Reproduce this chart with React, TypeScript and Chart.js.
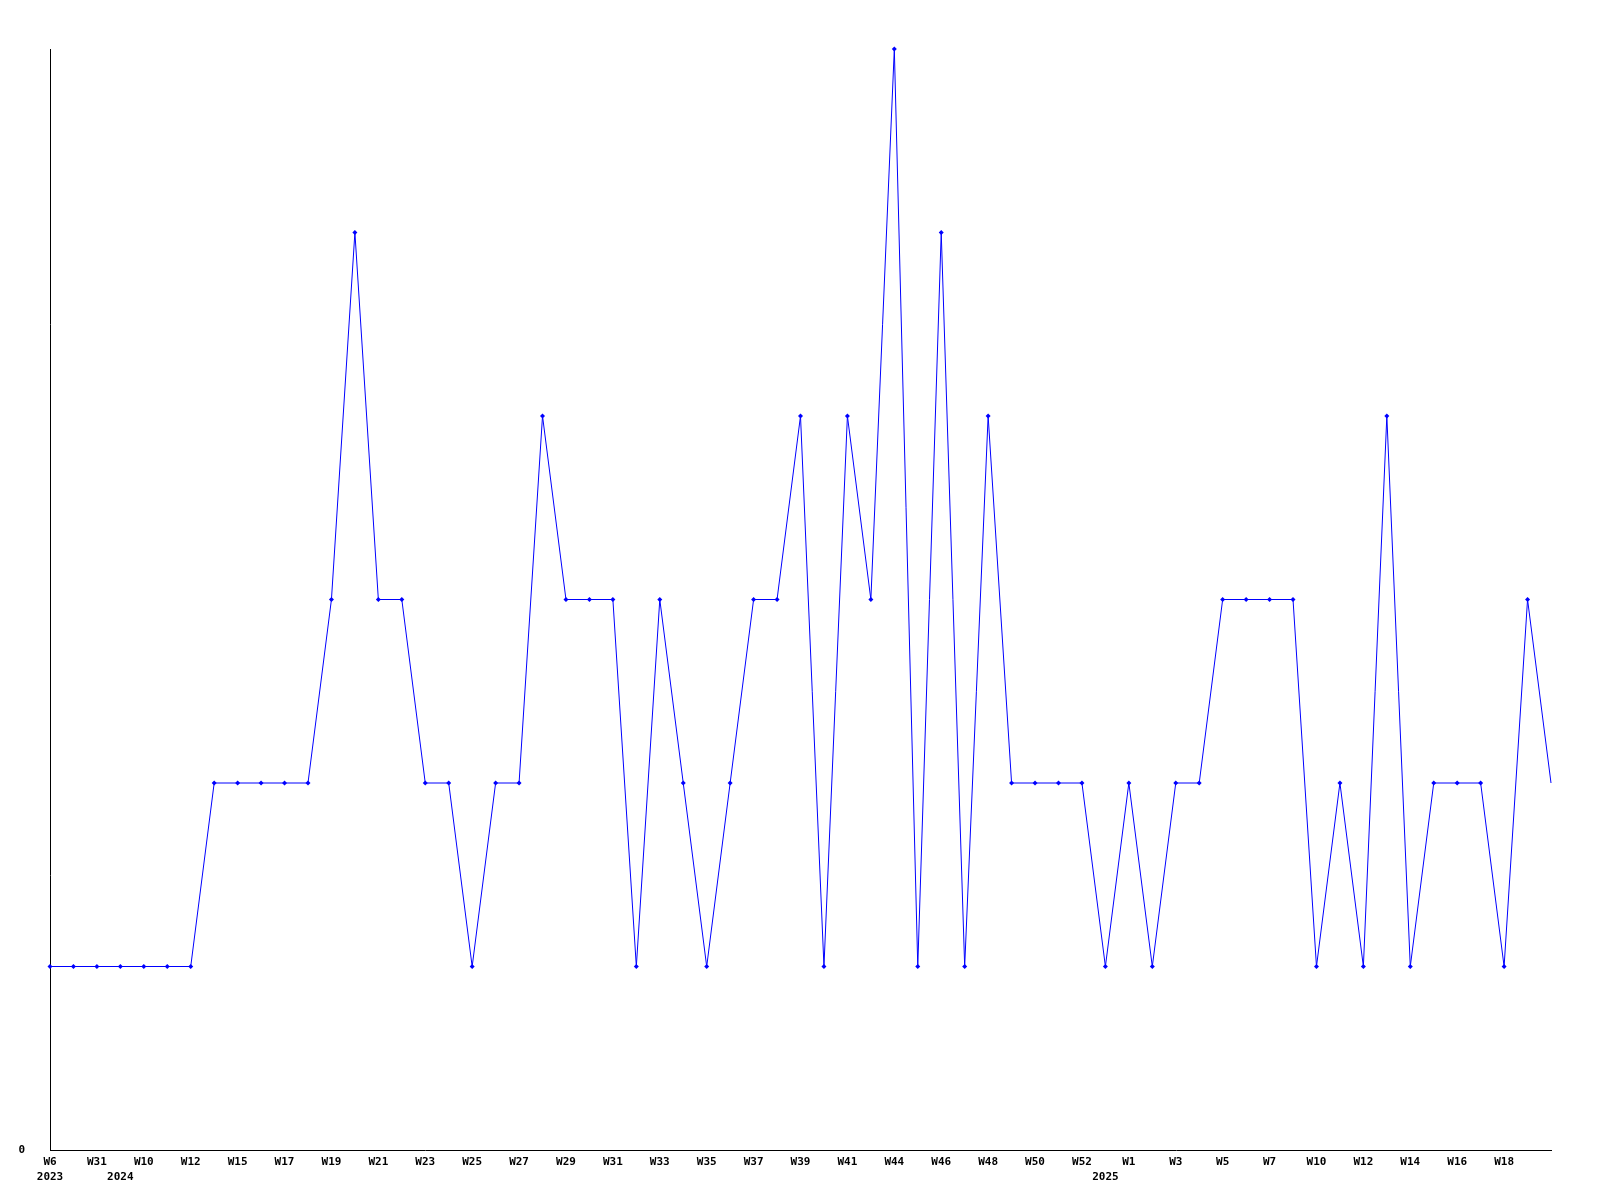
import React, { useEffect, useRef } from "react";
import { Chart, registerables } from "chart.js";

Chart.register(...registerables);

const weeks: string[] = [
  "W6", "W18", "W31", "W2", "W10", "W11", "W12", "W13", "W15", "W16",
  "W17", "W18", "W19", "W20", "W21", "W22", "W23", "W24", "W25", "W26",
  "W27", "W28", "W29", "W30", "W31", "W32", "W33", "W34", "W35", "W36",
  "W37", "W38", "W39", "W40", "W41", "W42", "W44", "W45", "W46", "W47",
  "W48", "W49", "W50", "W51", "W52", "W53", "W1", "W2", "W3", "W4",
  "W5", "W6", "W7", "W8", "W10", "W11", "W12", "W13", "W14", "W15",
  "W16", "W17", "W18", "W19", "W20",
];

const years: string[] = weeks.map(() => "");
years[0] = "2023";
years[3] = "2024";
years[45] = "2025";

const values: number[] = [
  1, 1, 1, 1, 1, 1, 1, 2, 2, 2,
  2, 2, 3, 5, 3, 3, 2, 2, 1, 2,
  2, 4, 3, 3, 3, 1, 3, 2, 1, 2,
  3, 3, 4, 1, 4, 3, 6, 1, 5, 1,
  4, 2, 2, 2, 2, 1, 2, 1, 2, 2,
  3, 3, 3, 3, 1, 2, 1, 4, 1, 2,
  2, 2, 1, 3, 2,
];

const yTickLabels: string[] = ["0"];

export default function App() {
  const ref = useRef<HTMLCanvasElement | null>(null);

  useEffect(() => {
    if (!ref.current) return;
    const font = { family: "'DejaVu Sans Mono', monospace", size: 11, weight: "bold" as const, lineHeight: 1.36 };
    const last = values.length - 1;
    const chart = new Chart(ref.current, {
      type: "line",
      data: {
        labels: weeks,
        datasets: [
          {
            data: values,
            borderColor: "#0000ff",
            backgroundColor: "#0000ff",
            borderWidth: 1,
            pointStyle: "rectRot",
            pointRadius: values.map((_, i) => (i === last ? 0 : 2.5)),
            pointBorderWidth: 0,
            tension: 0,
            fill: false,
            clip: false as any,
          },
        ],
      },
      options: {
        responsive: false,
        animation: false,
        layout: { padding: { left: 0, top: 49, right: 49, bottom: 0 } },
        plugins: { legend: { display: false }, tooltip: { enabled: false }, title: { display: false } },
        scales: {
          x: {
            offset: false,
            grid: { display: false, drawTicks: false },
            border: { display: true, color: "#000000", width: 1 },
            ticks: {
              autoSkip: false,
              maxRotation: 0,
              minRotation: 0,
              padding: 5,
              color: "#000000",
              font,
              callback: (_v: any, i: number) => {
                const w = i % 2 === 0 && i < last ? weeks[i] : "";
                if (years[i]) return [w, years[i]];
                return w;
              },
            },
            afterFit: (s: any) => {
              s.height = 50;
            },
          },
          y: {
            min: 0,
            max: 6,
            grid: { display: false, drawTicks: false },
            border: { display: true, color: "#000000", width: 1 },
            ticks: {
              stepSize: 1,
              padding: 25,
              color: "#000000",
              font,
              callback: (v: any) => (v === 0 ? yTickLabels[0] : ""),
            },
            afterFit: (s: any) => {
              s.width = 50;
            },
          },
        },
      },
    });
    return () => chart.destroy();
  }, []);

  return (
    <div style={{ position: "fixed", left: 0, top: 0, width: 1600, height: 1200, background: "#ffffff" }}>
      <canvas ref={ref} width={1600} height={1200} style={{ width: 1600, height: 1200 }} />
    </div>
  );
}
